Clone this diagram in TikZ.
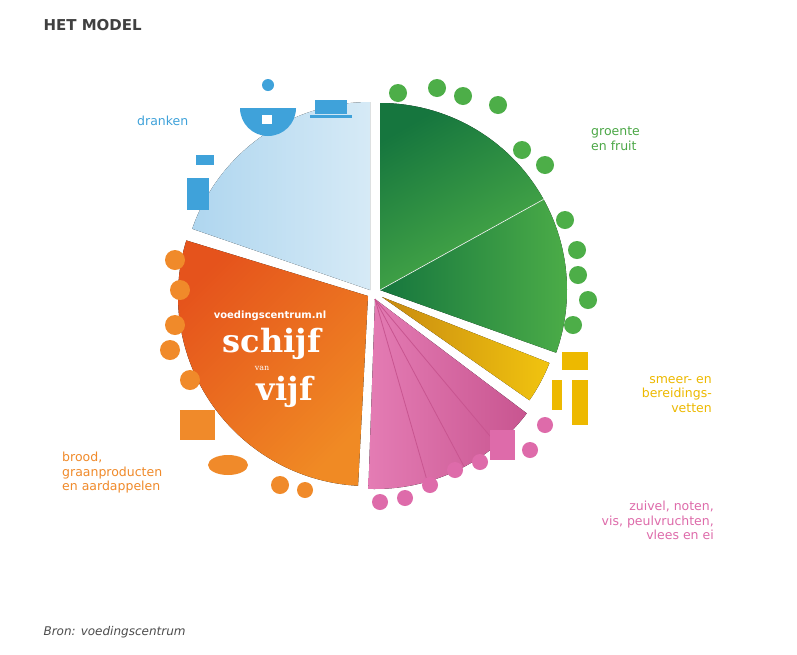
\documentclass[tikz,border=0pt]{standalone}
\usepackage{fontspec}
\setmainfont{DejaVu Serif}
\newfontfamily\hd{DejaVu Sans}
\begin{document}
\begin{tikzpicture}[x=1pt,y=-1pt,
 lbl/.style={font=\fontsize{12.5}{14.5}\selectfont\hd, align=left, inner sep=0}]
\definecolor{cbl}{HTML}{3FA2DA}\definecolor{cbll}{HTML}{D6EAF6}\definecolor{cblm}{HTML}{AFD6EF}
\definecolor{cgd}{HTML}{16763E}\definecolor{cgl}{HTML}{4DAE48}
\definecolor{cy}{HTML}{F1C40F}\definecolor{cyd}{HTML}{C88A10}
\definecolor{cp}{HTML}{E47CB4}\definecolor{cpd}{HTML}{C85590}
\definecolor{co}{HTML}{F08A24}\definecolor{cod}{HTML}{E5531C}
\definecolor{cgt}{HTML}{4CA847}\definecolor{cyt}{HTML}{EDB900}\definecolor{cpt}{HTML}{DE6BAA}\definecolor{cot}{HTML}{F08A2A}
\useasboundingbox[fill=white] (0,0) rectangle (797,654);
\node[anchor=west,font=\hd\bfseries\fontsize{15}{16}\selectfont,text=black!75] (title) at (40,25) {HET MODEL};
\node[anchor=west,font=\hd\itshape\fontsize{12}{14}\selectfont,text=black!70] (src) at (40,632) {Bron: voedingscentrum};
% slices
\coordinate (cb) at (370,290);
\coordinate (cg) at (380,290);
\coordinate (cyc) at (382,297);
\coordinate (cpc) at (375,299);
\coordinate (coc) at (368,296);
\fill[left color=cblm,right color=cbll] (cb) -- ++(90:188pt) arc[start angle=90,end angle=161,radius=188pt] -- cycle;
\fill[left color=cgd,right color=cgl,shading angle=30] (cg) -- ++(90:187pt) arc[start angle=90,end angle=29,radius=187pt] -- cycle;
\fill[left color=cgd,right color=cgl] (cg) -- ++(29:187pt) arc[start angle=29,end angle=-19.6,radius=187pt] -- cycle;
\draw[white,line width=0.6pt] (cg) -- ++(29:187pt);
\fill[left color=cyd,right color=cy] (cyc) -- ++(-21.5:180pt) arc[start angle=-21.5,end angle=-35,radius=180pt] -- cycle;
\fill[left color=cp,right color=cpd] (cpc) -- ++(-37:190pt) arc[start angle=-37,end angle=-92,radius=190pt] -- cycle;
\foreach \a in {-50,-62,-74} \draw[cpd,line width=0.8pt] (cpc) -- ++(\a:190pt);
\fill[left color=cod,right color=co,shading angle=45] (coc) -- ++(-93:190pt) arc[start angle=-93,end angle=-197,radius=190pt] -- cycle;
% logo
\node[text=white,font=\hd\bfseries\fontsize{10}{11}\selectfont] (url) at (270,316) {voedingscentrum.nl};
\node[text=white,font=\bfseries\fontsize{32}{32}\selectfont,inner sep=0] (sch) at (272,344) {schijf};
\node[text=white,font=\fontsize{8}{8}\selectfont,inner sep=0] (van) at (262,368) {van};
\node[text=white,font=\bfseries\fontsize{32}{32}\selectfont,inner sep=0] (vij) at (285,392) {vijf};
% labels
\node[lbl,anchor=west,text=cbl] (ld) at (137,121) {dranken};
\node[lbl,anchor=north west,text=cgt] (lg) at (591,127) {groente\\en fruit};
\node[lbl,anchor=north east,align=right,text=cyt] (ly) at (712,376) {smeer- en\\bereidings-\\vetten};
\node[lbl,anchor=north east,align=right,text=cpt] (lp) at (714,501) {zuivel, noten,\\vis, peulvruchten,\\vlees en ei};
\node[lbl,anchor=north west,text=cot] (lo) at (62,452) {brood,\\graanproducten\\en aardappelen};
% simple icons
\fill[cbl] (315,100) rectangle (347,114); \fill[cbl] (310,115) rectangle (352,118);
\fill[cbl] (240,108) arc[start angle=180,end angle=360,radius=28pt] -- (296,108) -- cycle;
\fill[cbl] (268,85) circle (6pt);
\fill[white] (262,115) rectangle (272,124);
\fill[cbl] (187,178) rectangle (209,210); \fill[cbl] (196,155) rectangle (214,165);
\foreach \x/\y in {398/93,437/88,463/96,498/105,522/150,545/165,565/220,577/250,578/275,588/300,573/325}
  \fill[cgl] (\x,\y) circle (9pt);
\fill[cyt] (562,352) rectangle (588,370);
\fill[cyt] (552,380) rectangle (562,410);
\fill[cyt] (572,380) rectangle (588,425);
\foreach \x/\y in {505/440,530/450,545/425,480/462,455/470,430/485,405/498,380/502}
  \fill[cpt] (\x,\y) circle (8pt);
\fill[cpt] (490,430) rectangle (515,460);
\foreach \x/\y in {175/260,180/290,175/325,170/350,190/380}
  \fill[cot] (\x,\y) circle (10pt);
\fill[cot] (180,410) rectangle (215,440);
\fill[cot] (228,465) ellipse[x radius=20pt,y radius=10pt];
\fill[cot] (280,485) circle (9pt); \fill[cot] (305,490) circle (8pt);
\end{tikzpicture}
\end{document}
